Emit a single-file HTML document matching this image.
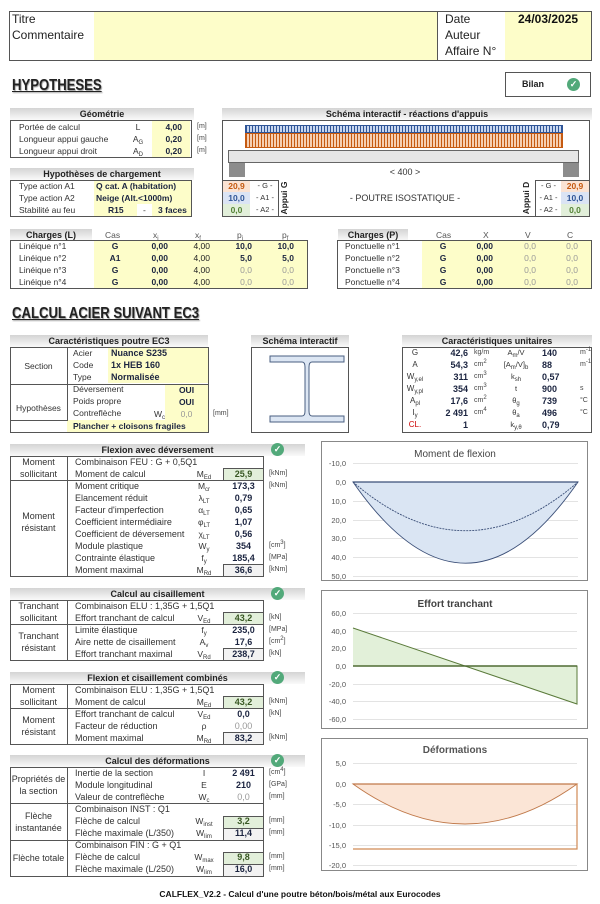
<!DOCTYPE html>
<html><head><meta charset="utf-8">
<style>
*{margin:0;padding:0;box-sizing:border-box}
body{width:600px;height:904px;background:#fff;position:relative;overflow:hidden;font-family:"Liberation Sans",sans-serif;font-size:8.5px;color:#333}
.a{position:absolute;white-space:nowrap;line-height:12px}
.b{position:absolute}
.c{text-align:center}
.r{text-align:right}
.bd{font-weight:bold;color:#1b2440}
.g{color:#999}
.hd{position:absolute;height:12px;background:linear-gradient(#d4d4d4,#fafafa);font-weight:bold;text-align:center;line-height:12px;color:#222;font-size:9px}
.y{position:absolute;background:#fdfdc9}
.bx{position:absolute;border:1px solid #555}
.gr{position:absolute;background:#e2efda;border:1px solid #555}
.gy{position:absolute;background:#f2f2f2;border:1px solid #555}
.ck{position:absolute;width:13px;height:13px;border-radius:50%;background:#52a97a;color:#fff;font-size:9px;line-height:13px;text-align:center;font-weight:bold}
.u{font-size:7px;color:#444}
sub{font-size:6px;vertical-align:baseline;position:relative;top:2px;line-height:0}
sup{font-size:6px;vertical-align:baseline;position:relative;top:-3px;line-height:0}
.t{font-size:16px;font-weight:bold;color:#222;text-decoration:underline;position:absolute;white-space:nowrap;transform:scaleX(0.82);transform-origin:0 0;text-shadow:1px 1px 1px #999}
</style></head><body>

<!-- Header -->
<div class="y" style="left:94px;top:11px;width:343px;height:50px"></div>
<div class="y" style="left:505px;top:11px;width:87px;height:50px"></div>
<div class="bx" style="left:9px;top:11px;width:583px;height:50px"></div>
<div class="b" style="left:437px;top:11px;width:1px;height:50px;background:#555"></div>
<div class="a" style="left:12px;top:11px;font-size:12px;line-height:16px;color:#222">Titre<br>Commentaire</div>
<div class="a" style="left:445px;top:11px;font-size:12px;line-height:16px;color:#222">Date<br>Auteur<br>Affaire N°</div>
<div class="a" style="left:518px;top:11px;font-size:12px;line-height:16px;font-weight:bold;color:#111">24/03/2025</div>

<div class="t" style="left:12px;top:77px">HYPOTHESES</div>
<div class="bx" style="left:505px;top:72px;width:86px;height:25px"></div>
<div class="a" style="left:522px;top:78px;font-weight:bold;font-size:9px;color:#222">Bilan</div>
<div class="ck" style="left:567px;top:78px">✓</div>

<!-- Géométrie -->
<div class="hd" style="left:10px;top:108px;width:184px">Géométrie</div>
<div class="y" style="left:152px;top:121px;width:38px;height:36px"></div>
<div class="bx" style="left:10px;top:120px;width:182px;height:38px"></div>
<div class="a" style="left:19px;top:121px">Portée de calcul<br>Longueur appui gauche<br>Longueur appui droit</div>
<div class="a c" style="left:130px;top:121px;width:16px">L<br>A<sub>G</sub><br>A<sub>D</sub></div>
<div class="a r bd" style="left:150px;top:121px;width:32px">4,00<br>0,20<br>0,20</div>
<div class="a u" style="left:197px;top:121px">[m]<br>[m]<br>[m]</div>

<!-- Schéma -->
<div class="hd" style="left:222px;top:108px;width:370px">Schéma interactif - réactions d'appuis</div>
<div class="bx" style="left:222px;top:120px;width:368px;height:97px"></div>
<div class="b" style="left:245px;top:125px;width:318px;height:8px;background:repeating-linear-gradient(90deg,#2f5597 0,#2f5597 1px,#c7d6ef 1px,#c7d6ef 3px);border:1px solid #2f5597"></div>
<div class="b" style="left:245px;top:133px;width:318px;height:15px;background:repeating-linear-gradient(90deg,#c55a11 0,#c55a11 1px,#f6cfb2 1px,#f6cfb2 3px);border:1px solid #c55a11"></div>
<div class="b" style="left:228px;top:150px;width:351px;height:13px;background:#e6e6e6;border:1px solid #666"></div>
<div class="b" style="left:229px;top:163px;width:16px;height:14px;background:#8c8c8c"></div>
<div class="b" style="left:563px;top:163px;width:16px;height:14px;background:#8c8c8c"></div>
<div class="a c" style="left:370px;top:166px;width:70px;font-size:9px">&lt; 400 &gt;</div>
<div class="b" style="left:223px;top:181px;width:27px;height:11px;background:#fbe3d3"></div>
<div class="b" style="left:223px;top:192px;width:27px;height:12px;background:#dbe4f4"></div>
<div class="b" style="left:223px;top:204px;width:27px;height:12px;background:#e2efda"></div>
<div class="b" style="left:561px;top:181px;width:28px;height:11px;background:#fbe3d3"></div>
<div class="b" style="left:561px;top:192px;width:28px;height:12px;background:#dbe4f4"></div>
<div class="b" style="left:561px;top:204px;width:28px;height:12px;background:#e2efda"></div>
<div class="b" style="left:222px;top:180px;width:57px;height:37px;border-top:1px solid #555;border-right:1px solid #555"></div>
<div class="b" style="left:535px;top:180px;width:55px;height:37px;border-top:1px solid #555;border-left:1px solid #555"></div>
<div class="a c" style="left:223px;top:180px;width:27px;font-weight:bold;line-height:12px"><span style="color:#c55a11">20,9</span><br><span style="color:#2f5597">10,0</span><br><span style="color:#548235">0,0</span></div>
<div class="a c" style="left:252px;top:180px;width:26px;font-size:7.5px">- G -<br>- A1 -<br>- A2 -</div>
<div class="a c" style="left:536px;top:180px;width:25px;font-size:7.5px">- G -<br>- A1 -<br>- A2 -</div>
<div class="a c" style="left:561px;top:180px;width:28px;font-weight:bold"><span style="color:#c55a11">20,9</span><br><span style="color:#2f5597">10,0</span><br><span style="color:#548235">0,0</span></div>
<div class="a" style="left:264px;top:192px;transform:rotate(-90deg);width:40px;text-align:center;font-weight:bold;color:#222">Appui G</div>
<div class="a" style="left:506px;top:192px;transform:rotate(-90deg);width:40px;text-align:center;font-weight:bold;color:#222">Appui D</div>
<div class="a c" style="left:330px;top:192px;width:150px;font-size:9px">- POUTRE ISOSTATIQUE -</div>

<!-- Hyp chargement -->
<div class="hd" style="left:10px;top:168px;width:184px">Hypothèses de chargement</div>
<div class="y" style="left:94px;top:181px;width:98px;height:35px"></div>
<div class="b" style="left:137px;top:204px;width:15px;height:12px;background:#fff"></div>
<div class="bx" style="left:10px;top:180px;width:182px;height:37px"></div>
<div class="a" style="left:19px;top:180px">Type action A1<br>Type action A2<br>Stabilité au feu</div>
<div class="a bd" style="left:96px;top:180px">Q cat. A (habitation)<br>Neige (Alt.&lt;1000m)</div>
<div class="a bd" style="left:108px;top:204px">R15</div>
<div class="a" style="left:143px;top:204px">-</div>
<div class="a bd" style="left:158px;top:204px">3 faces</div>

<!-- Charges L -->
<div class="hd" style="left:10px;top:229px;width:82px">Charges (L)</div>
<div class="a c" style="left:95px;top:229px;width:212px;color:#555"><span class="b" style="left:10px">Cas</span><span class="b" style="left:58px">x<sub>i</sub></span><span class="b" style="left:100px">x<sub>f</sub></span><span class="b" style="left:142px">p<sub>i</sub></span><span class="b" style="left:187px">p<sub>f</sub></span></div>
<div class="y" style="left:94px;top:241px;width:213px;height:47px"></div>
<div class="bx" style="left:10px;top:240px;width:298px;height:49px"></div>
<div class="a" style="left:19px;top:240px">Linéique n°1<br>Linéique n°2<br>Linéique n°3<br>Linéique n°4</div>
<div class="a c bd" style="left:104px;top:240px;width:22px">G<br>A1<br>G<br>G</div>
<div class="a r bd" style="left:140px;top:240px;width:28px">0,00<br>0,00<br>0,00<br>0,00</div>
<div class="a r" style="left:182px;top:240px;width:28px;color:#222">4,00<br>4,00<br>4,00<br>4,00</div>
<div class="a r" style="left:224px;top:240px;width:28px"><b class="bd">10,0<br>5,0</b><br><span class="g">0,0<br>0,0</span></div>
<div class="a r" style="left:266px;top:240px;width:28px"><b class="bd">10,0<br>5,0</b><br><span class="g">0,0<br>0,0</span></div>

<!-- Charges P -->
<div class="hd" style="left:338px;top:229px;width:70px">Charges (P)</div>
<div class="a" style="left:0;top:229px;color:#555"><span class="b" style="left:436px">Cas</span><span class="b" style="left:483px">X</span><span class="b" style="left:525px">V</span><span class="b" style="left:567px">C</span></div>
<div class="y" style="left:422px;top:241px;width:169px;height:47px"></div>
<div class="bx" style="left:337px;top:240px;width:255px;height:49px"></div>
<div class="a" style="left:345px;top:240px">Ponctuelle n°1<br>Ponctuelle n°2<br>Ponctuelle n°3<br>Ponctuelle n°4</div>
<div class="a c bd" style="left:432px;top:240px;width:22px">G<br>G<br>G<br>G</div>
<div class="a r bd" style="left:465px;top:240px;width:28px">0,00<br>0,00<br>0,00<br>0,00</div>
<div class="a r g" style="left:508px;top:240px;width:28px">0,0<br>0,0<br>0,0<br>0,0</div>
<div class="a r g" style="left:550px;top:240px;width:28px">0,0<br>0,0<br>0,0<br>0,0</div>

<div class="t" style="left:12px;top:305px">CALCUL ACIER SUIVANT EC3</div>

<!-- Carac poutre -->
<div class="hd" style="left:10px;top:335px;width:198px">Caractéristiques poutre EC3</div>
<div class="y" style="left:108px;top:348px;width:100px;height:35px"></div>
<div class="y" style="left:165px;top:385px;width:43px;height:35px"></div>
<div class="y" style="left:67px;top:420px;width:141px;height:12px"></div>
<div class="bx" style="left:10px;top:347px;width:199px;height:86px"></div>
<div class="b" style="left:67px;top:347px;width:1px;height:74px;background:#555"></div>
<div class="b" style="left:10px;top:384px;width:199px;height:1px;background:#555"></div>
<div class="b" style="left:10px;top:420px;width:58px;height:1px;background:#555"></div>
<div class="a c" style="left:10px;top:360px;width:57px">Section</div>
<div class="a c" style="left:10px;top:402px;width:57px">Hypothèses</div>
<div class="a" style="left:73px;top:347px">Acier<br>Code<br>Type<br>Déversement<br>Poids propre<br>Contreflèche</div>
<div class="a bd" style="left:111px;top:347px;font-size:9px">Nuance S235<br>1x HEB 160<br>Normalisée</div>
<div class="a" style="left:154px;top:408px">W<sub>c</sub></div>
<div class="a c bd" style="left:165px;top:384px;width:43px">OUI<br>OUI<br><span class="g" style="font-weight:normal">0,0</span></div>
<div class="a u" style="left:213px;top:408px">[mm]</div>
<div class="a bd" style="left:73px;top:420px">Plancher + cloisons fragiles</div>

<!-- Schéma interactif -->
<div class="hd" style="left:251px;top:335px;width:98px">Schéma interactif</div>
<div class="bx" style="left:251px;top:347px;width:98px;height:86px"></div>
<svg class="b" style="left:251px;top:347px" width="98" height="86">
<path d="M19 9 H93 V15 H61 Q58 15 58 20 V64 Q58 69 61 69 H93 V75 H19 V69 H51 Q54 69 54 64 V20 Q54 15 51 15 H19 Z" fill="#dce6f3" stroke="#4a5f80" stroke-width="1"/>
</svg>

<!-- Carac unitaires -->
<div class="hd" style="left:402px;top:335px;width:190px">Caractéristiques unitaires</div>
<div class="bx" style="left:402px;top:347px;width:190px;height:86px"></div>
<div class="a c" style="left:405px;top:347px;width:20px;line-height:12px;font-size:8px">G<br>A<br>W<sub>y,el</sub><br>W<sub>y,pl</sub><br>A<sub>pl</sub><br>I<sub>y</sub><br><span style="color:#c00">CL.</span></div>
<div class="a r bd" style="left:432px;top:347px;width:36px;font-size:9px">42,6<br>54,3<br>311<br>354<br>17,6<br>2 491<br>1</div>
<div class="a u" style="left:474px;top:347px;line-height:12px">kg/m<br>cm<sup>2</sup><br>cm<sup>3</sup><br>cm<sup>3</sup><br>cm<sup>2</sup><br>cm<sup>4</sup></div>
<div class="a c" style="left:500px;top:347px;width:32px;font-size:7.5px">A<sub>m</sub>/V<br>[A<sub>m</sub>/V]<sub>b</sub><br>k<sub>sh</sub><br>t<br>θ<sub>g</sub><br>θ<sub>a</sub><br>k<sub>y,θ</sub></div>
<div class="a bd" style="left:542px;top:347px;font-size:9px">140<br>88<br>0,57<br>900<br>739<br>496<br>0,79</div>
<div class="a u" style="left:580px;top:347px">m<sup>-1</sup><br>m<sup>-1</sup><br><br>s<br>°C<br>°C</div>

<!-- Flexion avec déversement -->
<div class="hd" style="left:10px;top:444px;width:295px">Flexion avec déversement</div>
<div class="ck" style="left:271px;top:443px">✓</div>
<div class="bx" style="left:10px;top:456px;width:254px;height:121px"></div>
<div class="b" style="left:67px;top:456px;width:1px;height:121px;background:#555"></div>
<div class="b" style="left:10px;top:480px;width:254px;height:1px;background:#555"></div>
<div class="gr" style="left:223px;top:468px;width:41px;height:13px"></div>
<div class="gy" style="left:223px;top:564px;width:41px;height:13px"></div>
<div class="a c" style="left:10px;top:456px;width:57px;font-size:9px">Moment<br>sollicitant</div>
<div class="a c" style="left:10px;top:510px;width:57px;font-size:9px">Moment<br>résistant</div>
<div class="a" style="left:75px;top:456px;font-size:9px">Combinaison FEU : G + 0,5Q1<br>Moment de calcul<br>Moment critique<br>Elancement réduit<br>Facteur d'imperfection<br>Coefficient intermédiaire<br>Coefficient de déversement<br>Module plastique<br>Contrainte élastique<br>Moment maximal</div>
<div class="a c" style="left:190px;top:468px;width:28px">M<sub>Ed</sub><br>M<sub>cr</sub><br>λ<sub>LT</sub><br>α<sub>LT</sub><br>φ<sub>LT</sub><br>χ<sub>LT</sub><br>W<sub>y</sub><br>f<sub>y</sub><br>M<sub>Rd</sub></div>
<div class="a c bd" style="left:223px;top:468px;width:41px;font-size:9px"><span style="color:#385723">25,9</span><br>173,3<br>0,79<br>0,65<br>1,07<br>0,56<br>354<br>185,4<br>36,6</div>
<div class="a u" style="left:269px;top:468px">[kNm]<br>[kNm]<br><br><br><br><br>[cm<sup>3</sup>]<br>[MPa]<br>[kNm]</div>

<!-- Cisaillement -->
<div class="hd" style="left:10px;top:588px;width:295px">Calcul au cisaillement</div>
<div class="ck" style="left:271px;top:587px">✓</div>
<div class="bx" style="left:10px;top:600px;width:254px;height:61px"></div>
<div class="b" style="left:67px;top:600px;width:1px;height:61px;background:#555"></div>
<div class="b" style="left:10px;top:624px;width:254px;height:1px;background:#555"></div>
<div class="gr" style="left:223px;top:612px;width:41px;height:13px"></div>
<div class="gy" style="left:223px;top:648px;width:41px;height:13px"></div>
<div class="a c" style="left:10px;top:600px;width:57px;font-size:9px">Tranchant<br>sollicitant</div>
<div class="a c" style="left:10px;top:630px;width:57px;font-size:9px">Tranchant<br>résistant</div>
<div class="a" style="left:75px;top:600px;font-size:9px">Combinaison ELU : 1,35G + 1,5Q1<br>Effort tranchant de calcul<br>Limite élastique<br>Aire nette de cisaillement<br>Effort tranchant maximal</div>
<div class="a c" style="left:190px;top:612px;width:28px">V<sub>Ed</sub><br>f<sub>y</sub><br>A<sub>v</sub><br>V<sub>Rd</sub></div>
<div class="a c bd" style="left:223px;top:612px;width:41px;font-size:9px"><span style="color:#385723">43,2</span><br>235,0<br>17,6<br>238,7</div>
<div class="a u" style="left:269px;top:612px">[kN]<br>[MPa]<br>[cm<sup>2</sup>]<br>[kN]</div>

<!-- Combinés -->
<div class="hd" style="left:10px;top:672px;width:295px">Flexion et cisaillement combinés</div>
<div class="ck" style="left:271px;top:671px">✓</div>
<div class="bx" style="left:10px;top:684px;width:254px;height:61px"></div>
<div class="b" style="left:67px;top:684px;width:1px;height:61px;background:#555"></div>
<div class="b" style="left:10px;top:708px;width:254px;height:1px;background:#555"></div>
<div class="gr" style="left:223px;top:696px;width:41px;height:13px"></div>
<div class="gy" style="left:223px;top:732px;width:41px;height:13px"></div>
<div class="a c" style="left:10px;top:684px;width:57px;font-size:9px">Moment<br>sollicitant</div>
<div class="a c" style="left:10px;top:714px;width:57px;font-size:9px">Moment<br>résistant</div>
<div class="a" style="left:75px;top:684px;font-size:9px">Combinaison ELU : 1,35G + 1,5Q1<br>Moment de calcul<br>Effort tranchant de calcul<br>Facteur de réduction<br>Moment maximal</div>
<div class="a c" style="left:190px;top:696px;width:28px">M<sub>Ed</sub><br>V<sub>Ed</sub><br>ρ<br>M<sub>Rd</sub></div>
<div class="a c bd" style="left:223px;top:696px;width:41px;font-size:9px"><span style="color:#385723">43,2</span><br>0,0<br><span class="g" style="font-weight:normal">0,00</span><br>83,2</div>
<div class="a u" style="left:269px;top:696px">[kNm]<br>[kN]<br><br>[kNm]</div>

<!-- Déformations -->
<div class="hd" style="left:10px;top:755px;width:295px">Calcul des déformations</div>
<div class="ck" style="left:271px;top:754px">✓</div>
<div class="bx" style="left:10px;top:767px;width:254px;height:110px"></div>
<div class="b" style="left:67px;top:767px;width:1px;height:110px;background:#555"></div>
<div class="b" style="left:10px;top:803px;width:254px;height:1px;background:#555"></div>
<div class="b" style="left:10px;top:840px;width:254px;height:1px;background:#555"></div>
<div class="gr" style="left:223px;top:816px;width:41px;height:13px"></div>
<div class="gy" style="left:223px;top:828px;width:41px;height:13px"></div>
<div class="gr" style="left:223px;top:852px;width:41px;height:13px"></div>
<div class="gy" style="left:223px;top:864px;width:41px;height:13px"></div>
<div class="a c" style="left:10px;top:773px;width:57px;font-size:9px">Propriétés de<br>la section</div>
<div class="a c" style="left:10px;top:810px;width:57px;font-size:9px">Flèche<br>instantanée</div>
<div class="a c" style="left:10px;top:852px;width:57px;font-size:9px">Flèche totale</div>
<div class="a" style="left:75px;top:767px;font-size:9px">Inertie de la section<br>Module longitudinal<br>Valeur de contreflèche<br>Combinaison INST : Q1<br>Flèche de calcul<br>Flèche maximale (L/350)<br>Combinaison FIN : G + Q1<br>Flèche de calcul<br>Flèche maximale (L/250)</div>
<div class="a c" style="left:190px;top:767px;width:28px">I<br>E<br>W<sub>c</sub><br><br>W<sub>inst</sub><br>W<sub>lim</sub><br><br>W<sub>max</sub><br>W<sub>lim</sub></div>
<div class="a c bd" style="left:223px;top:767px;width:41px;font-size:9px">2 491<br>210<br><span class="g" style="font-weight:normal">0,0</span><br><br><span style="color:#385723">3,2</span><br>11,4<br><br><span style="color:#385723">9,8</span><br>16,0</div>
<div class="a u" style="left:269px;top:767px">[cm<sup>4</sup>]<br>[GPa]<br>[mm]<br><br>[mm]<br>[mm]<br><br>[mm]<br>[mm]</div>

<!-- Charts -->
<svg class="b" style="left:0;top:0" width="600" height="904" font-family="Liberation Sans, sans-serif" font-size="7.5" fill="#555">
<rect x="321.5" y="441.5" width="266" height="139" fill="#fff" stroke="#888"/>
<text x="455" y="457" text-anchor="middle" font-size="10" fill="#444">Moment de flexion</text>
<g stroke="#e3e3e3" stroke-width="1">
<line x1="353" x2="578" y1="463.5" y2="463.5"/><line x1="353" x2="578" y1="501.5" y2="501.5"/><line x1="353" x2="578" y1="520.5" y2="520.5"/><line x1="353" x2="578" y1="538.5" y2="538.5"/><line x1="353" x2="578" y1="557.5" y2="557.5"/><line x1="353" x2="578" y1="576.5" y2="576.5"/></g>
<g text-anchor="end"><text x="346" y="466">-10,0</text><text x="346" y="485">0,0</text><text x="346" y="504">10,0</text><text x="346" y="523">20,0</text><text x="346" y="541">30,0</text><text x="346" y="560">40,0</text><text x="346" y="579">50,0</text></g>
<path d="M353 482 Q465.5 644.4 578 482 Z" fill="#dae5f3" stroke="#3b4f78" stroke-width="0.9"/>
<line x1="353" x2="578" y1="482" y2="482" stroke="#3b4f78" stroke-width="1.2"/>
<path d="M353 482 Q465.5 579.4 578 482" fill="none" stroke="#3b4f78" stroke-width="0.9" stroke-dasharray="2,1"/>
<rect x="321.5" y="590.5" width="266" height="138" fill="#fff" stroke="#888"/>
<text x="455" y="607" text-anchor="middle" font-size="10" font-weight="bold" fill="#444">Effort tranchant</text>
<g stroke="#e3e3e3"><line x1="353" x2="577" y1="613.5" y2="613.5"/><line x1="353" x2="577" y1="631.5" y2="631.5"/><line x1="353" x2="577" y1="648.5" y2="648.5"/><line x1="353" x2="577" y1="684.5" y2="684.5"/><line x1="353" x2="577" y1="701.5" y2="701.5"/><line x1="353" x2="577" y1="719.5" y2="719.5"/></g>
<g text-anchor="end"><text x="346" y="616">60,0</text><text x="346" y="634">40,0</text><text x="346" y="651">20,0</text><text x="346" y="669">0,0</text><text x="346" y="687">-20,0</text><text x="346" y="704">-40,0</text><text x="346" y="722">-60,0</text></g>
<polygon points="353,666 353,628 577,704 577,666" fill="#e2f0d9"/>
<polyline points="353,628 577,704 577,666 353,666" fill="none" stroke="#5a7a3a" stroke-width="1"/>
<line x1="353" x2="577" y1="666" y2="666" stroke="#4f6b33" stroke-width="1.6"/>
<rect x="321.5" y="738.5" width="266" height="132" fill="#fff" stroke="#888"/>
<text x="455" y="753" text-anchor="middle" font-size="10" font-weight="bold" fill="#555">Déformations</text>
<g stroke="#e3e3e3"><line x1="353" x2="577" y1="763.5" y2="763.5"/><line x1="353" x2="577" y1="804.5" y2="804.5"/><line x1="353" x2="577" y1="825.5" y2="825.5"/><line x1="353" x2="577" y1="845.5" y2="845.5"/><line x1="353" x2="577" y1="865.5" y2="865.5"/></g>
<g text-anchor="end"><text x="346" y="766">5,0</text><text x="346" y="787">0,0</text><text x="346" y="807">-5,0</text><text x="346" y="828">-10,0</text><text x="346" y="848">-15,0</text><text x="346" y="868">-20,0</text></g>
<path d="M353 784 Q465 864 577 784 Z" fill="#fbe5d6" stroke="#c0794a" stroke-width="0.9"/>
<line x1="353" x2="577" y1="784" y2="784" stroke="#c0794a" stroke-width="1.2"/>
<polyline points="353,849 577,849 577,784" fill="none" stroke="#d08a55" stroke-width="1.2"/>
</svg>

<div class="a c" style="left:0;top:888px;width:600px;font-weight:bold;font-size:8.5px;color:#111">CALFLEX_V2.2 - Calcul d'une poutre béton/bois/métal aux Eurocodes</div>
</body></html>
